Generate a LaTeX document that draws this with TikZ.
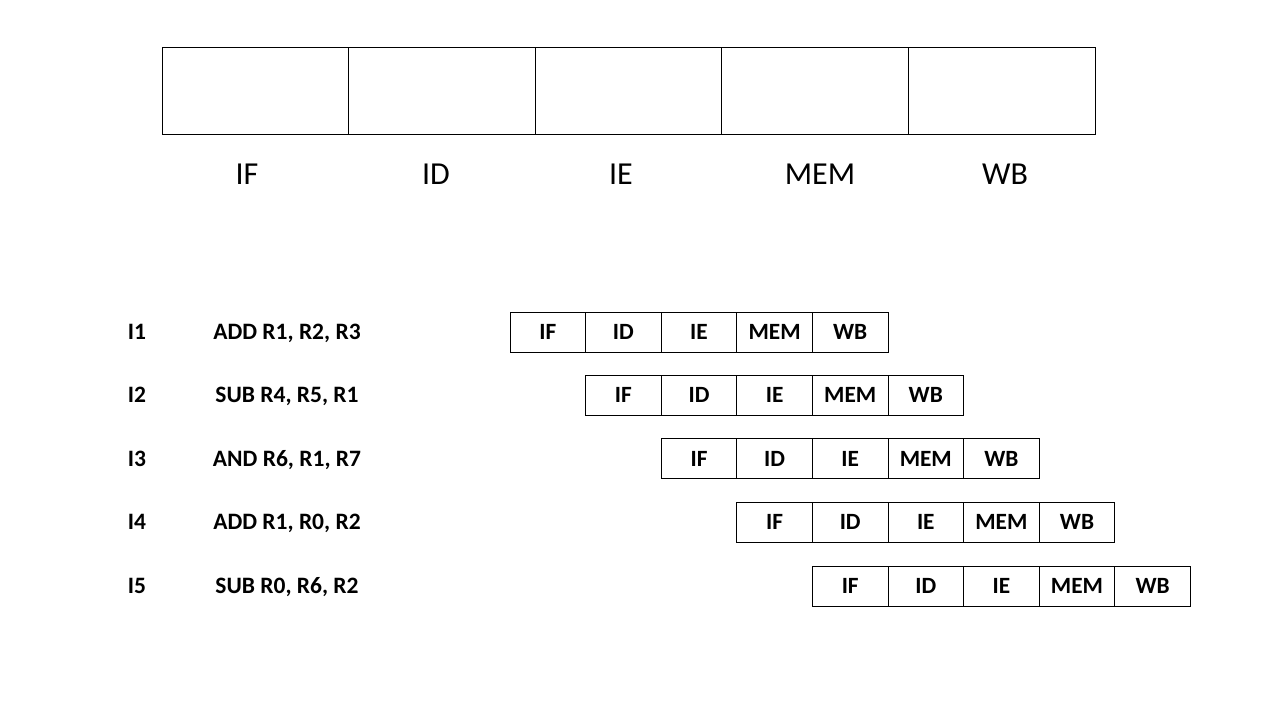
\documentclass[tikz,border=0pt]{standalone}
\usepackage{fontspec}
\setmainfont{Carlito}
\begin{document}
\begin{tikzpicture}[x=1pt,y=-1pt,
  bigbox/.style={draw,line width=1pt,minimum width=186.6pt,minimum height=87pt,inner sep=0pt,outer sep=0pt},
  biglabel/.style={font=\fontsize{32}{36}\selectfont,anchor=base,inner sep=0pt},
  stagebox/.style={draw,line width=1pt,minimum width=75.6pt,minimum height=40pt,inner sep=0pt,outer sep=0pt,font=\bfseries\fontsize{23.3}{26}\selectfont,text height=15pt,text depth=0pt},
  rowlabel/.style={font=\bfseries\fontsize{23.5}{26}\selectfont,anchor=base,inner sep=0pt}]
\useasboundingbox (0,0) rectangle (1280,720);
% top pipeline
\foreach \i in {0,1,2,3,4}{
  \node[bigbox] (top\i) at ({162+186.6*\i+93.3},90.5) {};
}
\node[biglabel] (lIF) at (247,184.5) {IF};
\node[biglabel] (lID) at (436,184.5) {ID};
\node[biglabel] (lIE) at (621,184.5) {IE};
\node[biglabel] (lMEM) at (820,184.5) {MEM};
\node[biglabel] (lWB) at (1005,184.5) {WB};
% instruction rows
\foreach \r/\n/\ins/\y in {0/I1/{ADD R1, R2, R3}/332,1/I2/{SUB R4, R5, R1}/395.3,2/I3/{AND R6, R1, R7}/458.6,3/I4/{ADD R1, R0, R2}/522,4/I5/{SUB R0, R6, R2}/586}{
  \node[rowlabel] (n\r) at (137,\y+7.5) {\n};
  \node[rowlabel] (ins\r) at (287,\y+7.5) {\ins};
  \foreach \s/\t in {0/IF,1/ID,2/IE,3/MEM,4/WB}{
    \node[stagebox] (s\r\s) at ({510+75.6*(\r+\s)+37.8},\y) {\t};
  }
}
\end{tikzpicture}
\end{document}
